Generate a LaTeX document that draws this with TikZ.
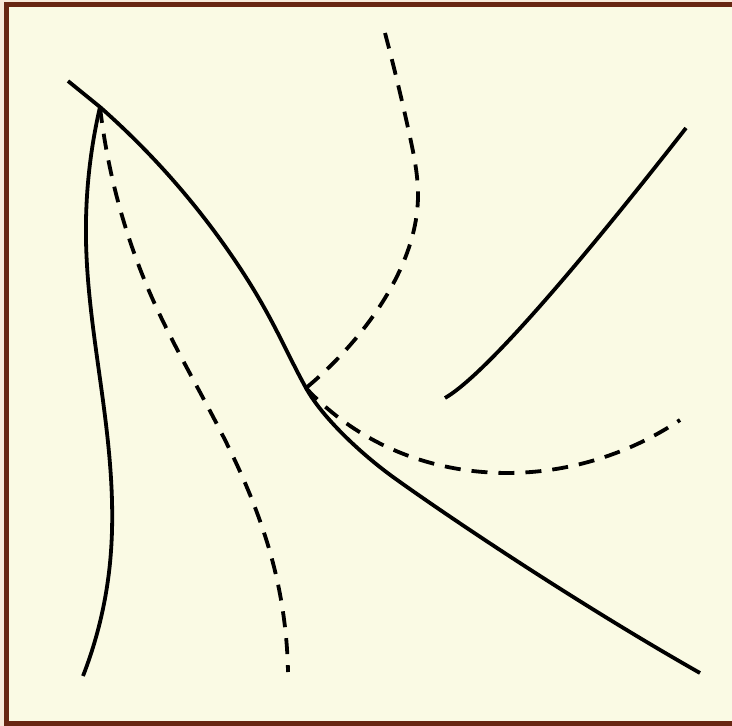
\documentclass[tikz,border=0pt]{standalone}
\usepackage{tikz}
\usetikzlibrary{calc, hobby}

\definecolor{paper}{RGB}{250,250,228}
\definecolor{frame}{RGB}{104,38,18}
\definecolor{outside}{RGB}{248,234,218}

\begin{document}
\begin{tikzpicture}[
    x=1bp, y=-1bp,
    curve/.style={line width=3.8bp, black, line cap=butt, line join=round},
    dashcurve/.style={curve, dash pattern=on 16bp off 11bp},
    through/.style={use Hobby shortcut}
]

% Paper and frame
\fill[outside] (0,0) rectangle (732,726);
\useasboundingbox (0,0) rectangle (732,726);
\draw[frame, line width=5bp, fill=paper] (6.5,5) rectangle (740,723.5);

% Shared points
\coordinate (cusp) at (100,107);
\coordinate (cross) at (306,388);

% Solid curves
\draw[curve] (68,81) -- (cusp)
    .. controls (160,160) and (205,215) .. (240,268)
    .. controls (273,318) and (285,350) .. (cross)
    .. controls (322,417) and (360,453) .. (393,477)
    .. controls (450,518) and (580,605) .. (700,673);
\draw[curve, through] (cusp) .. (86,240) .. (107,433) .. (110,563) .. (83,676);
\draw[curve] (445,398) .. controls (490,372) and (600,238) .. (686,128);

% Dashed curves
\draw[dashcurve, through] (cusp) .. (153,300) .. (227,444) .. (273,563) .. (288,672);
\draw[dashcurve, through] (385,33) .. (410,137) .. (418,197) .. (400,270)
    .. (357,337) .. (cross);
\draw[dashcurve, through] (cross) .. (383,445) .. (483,472) .. (567,467) .. (680,420);

\end{tikzpicture}
\end{document}
